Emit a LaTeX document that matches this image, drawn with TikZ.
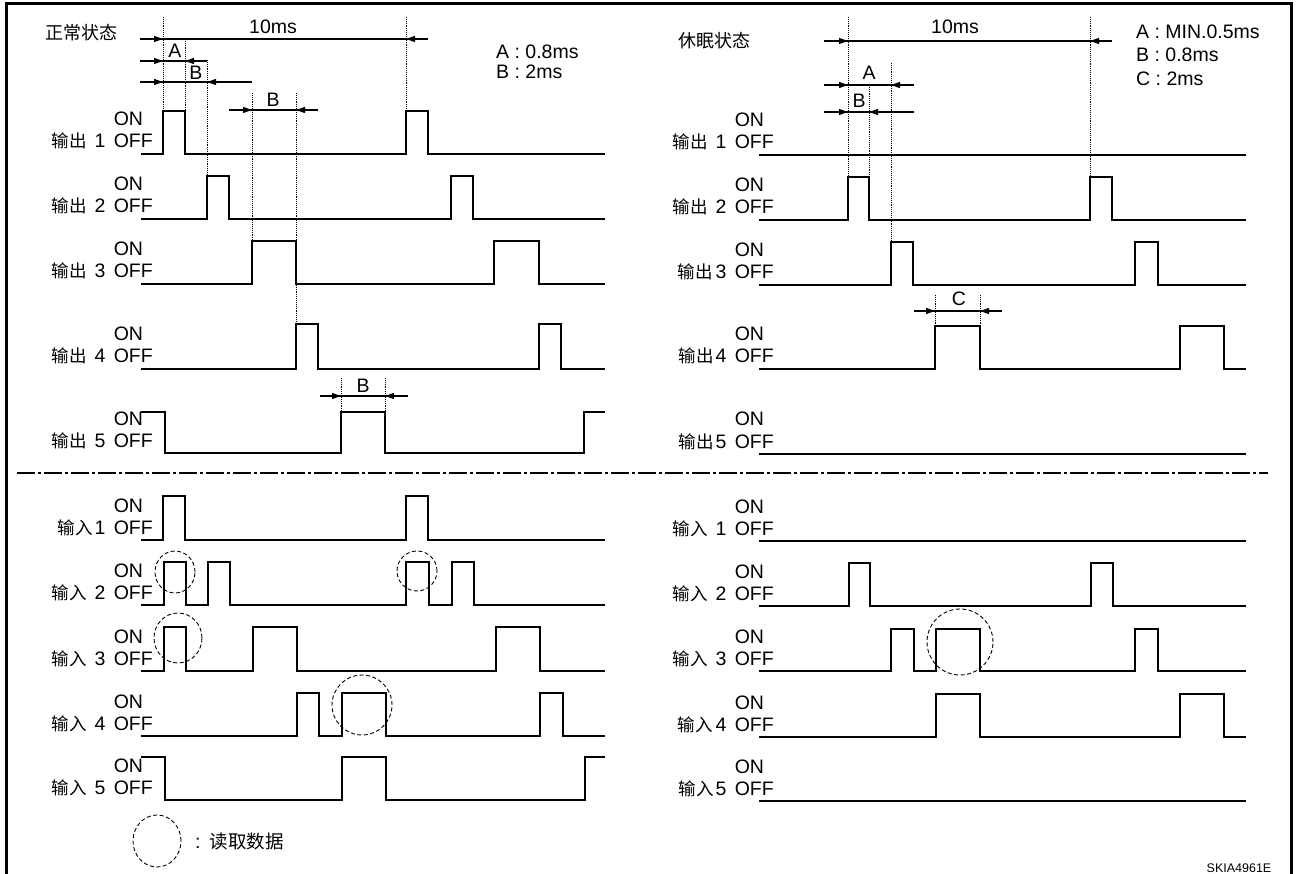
\documentclass[tikz,border=0pt]{standalone}
\usepackage{fontspec}
\setmainfont{Liberation Sans}
\newfontfamily\cjk{Noto Sans CJK SC}
\usetikzlibrary{arrows.meta}

\tikzset{
  sig/.style={line width=1.7pt},
  guide/.style={densely dotted, line width=0.9pt},
  dimline/.style={line width=1.2pt},
  dimtip/.style={-{Triangle[length=9pt,width=6pt]}, line width=1.2pt},
  readmark/.style={dash pattern=on 4pt off 2.5pt, line width=0.9pt},
  lbl/.style={inner sep=0pt, font=\fontsize{19.5}{21}\selectfont},
  head/.style={inner sep=0pt, font=\fontsize{18}{20}\selectfont\cjk},
}

\begin{document}
\begin{tikzpicture}[x=1pt,y=-1pt]
    \useasboundingbox (0,0) rectangle (1296,874);
    \draw[line width=3pt] (6,874) -- (6,4) -- (1291,4) -- (1291,874);

    % headings and keys
    \node[head] (normal) at (81,33) {正常状态};
    \node[head] (sleep) at (714,41) {休眠状态};
    \node[lbl, anchor=west] (keyA) at (496,52) {A : 0.8ms};
    \node[lbl, anchor=west] (keyB) at (496,72) {B : 2ms};
    \node[lbl, anchor=west] (skeyA) at (1136,32) {A : MIN.0.5ms};
    \node[lbl, anchor=west] (skeyB) at (1136,55) {B : 0.8ms};
    \node[lbl, anchor=west] (skeyC) at (1136,79) {C : 2ms};

    % row labels
    \foreach \nm/\grp/\num/\gp/\xr/\lo in {
        o1/输出/1/8/153/154, o2/输出/2/8/153/219, o3/输出/3/8/153/284, o4/输出/4/8/153/369, o5/输出/5/8/153/453,
        p1/输出/1/8/774/155, p2/输出/2/8/774/220, p3/输出/3/3/774/285, p4/输出/4/2/774/369, p5/输出/5/2/774/454,
        i1/输入/1/2/153/540, i2/输入/2/8/153/605, i3/输入/3/8/153/671, i4/输入/4/8/153/736, i5/输入/5/8/153/800,
        j1/输入/1/8/774/541, j2/输入/2/8/774/606, j3/输入/3/8/774/671, j4/输入/4/3/774/737, j5/输入/5/2/774/801} {
      \node[lbl, anchor=base east] (\nm-off) at (\xr,\lo-6) {OFF};
      \node[lbl, anchor=base west] (\nm-on) at ([yshift=22pt]\nm-off.base west) {ON};
      \node[lbl, anchor=base east] (\nm-name) at ([xshift=-8pt]\nm-off.base west) {{\cjk\fontsize{17.5}{20}\selectfont\grp}\hspace{\gp pt}\num};
    }

    % outputs, normal state
    \draw[sig] (141,154) -| (163,111) -| (185,154) -| (406,111) -| (428,154) -- (605,154);
    \draw[sig] (141,219) -| (207,176) -| (229,219) -| (451,176) -| (473,219) -- (605,219);
    \draw[sig] (141,284) -| (252,241) -| (296,284) -| (494,241) -| (539,284) -- (605,284);
    \draw[sig] (141,369) -| (296,324) -| (318,369) -| (539,324) -| (561,369) -- (605,369);
    \draw[sig] (141,412) -| (165,453) -| (341,412) -| (385,453) -| (584,412) -- (605,412);

    % outputs, sleep state
    \draw[sig] (759,155) -- (1246,155);
    \draw[sig] (759,220) -| (848,177) -| (869,220) -| (1090,177) -| (1112,220) -- (1246,220);
    \draw[sig] (759,285) -| (891,242) -| (913,285) -| (1135,242) -| (1158,285) -- (1246,285);
    \draw[sig] (759,369) -| (935,326) -| (980,369) -| (1180,326) -| (1224,369) -- (1246,369);
    \draw[sig] (759,454) -- (1246,454);

    % inputs, normal state
    \draw[sig] (141,540) -| (163,496) -| (185,540) -| (406,496) -| (428,540) -- (605,540);
    \draw[sig] (141,605) -| (164,562) -| (186,605) -| (208,562) -| (230,605) -| (406,562) -| (429,605) -| (452,562) -| (474,605) -- (605,605);
    \draw[sig] (141,671) -| (164,627) -| (186,671) -| (253,627) -| (297,671) -| (496,627) -| (540,671) -- (605,671);
    \draw[sig] (141,736) -| (297,693) -| (319,736) -| (342,693) -| (386,736) -| (540,693) -| (563,736) -- (605,736);
    \draw[sig] (141,757) -| (165,800) -| (342,757) -| (386,800) -| (585,757) -- (605,757);

    % inputs, sleep state
    \draw[sig] (759,541) -- (1246,541);
    \draw[sig] (759,606) -| (849,563) -| (870,606) -| (1091,563) -| (1113,606) -- (1246,606);
    \draw[sig] (759,671) -| (891,629) -| (914,671) -| (936,629) -| (980,671) -| (1135,629) -| (1158,671) -- (1246,671);
    \draw[sig] (759,737) -| (936,694) -| (980,737) -| (1180,694) -| (1224,737) -- (1246,737);
    \draw[sig] (759,801) -- (1246,801);

    % timing guides
    \draw[guide] (163,17) -- (163,111);
    \draw[guide] (185,39) -- (185,111);
    \draw[guide] (207,60) -- (207,176);
    \draw[guide] (252,93) -- (252,241);
    \draw[guide] (296,93) -- (296,324);
    \draw[guide] (406,17) -- (406,111);
    \draw[guide] (341,378) -- (341,412);
    \draw[guide] (385,378) -- (385,412);
    \draw[guide] (848,17) -- (848,177);
    \draw[guide] (869,85) -- (869,177);
    \draw[guide] (891,63) -- (891,242);
    \draw[guide] (1090,17) -- (1090,177);
    \draw[guide] (935,295) -- (935,326);
    \draw[guide] (980,295) -- (980,326);

    % dimension arrows, normal state
    \draw[dimline] (140,39) -- (428,39);
    \draw[dimtip] (140,39) -- (163,39);
    \draw[dimtip] (428,39) -- (406,39);
    \node[lbl] (period) at (273,27) {10ms};
    \draw[dimline] (140,61) -- (207,61);
    \draw[dimtip] (140,61) -- (163,61);
    \draw[dimtip] (207,61) -- (185,61);
    \node[lbl] (dimA) at (175,51) {A};
    \draw[dimline] (140,82) -- (252,82);
    \draw[dimtip] (140,82) -- (163,82);
    \draw[dimtip] (252,82) -- (207,82);
    \node[lbl] (dimB) at (196,73) {B};
    \draw[dimline] (229,110) -- (318,110);
    \draw[dimtip] (229,110) -- (252,110);
    \draw[dimtip] (318,110) -- (296,110);
    \node[lbl] (dimB2) at (273,100) {B};
    \draw[dimline] (320,396) -- (408,396);
    \draw[dimtip] (320,396) -- (341,396);
    \draw[dimtip] (408,396) -- (385,396);
    \node[lbl] (dimB3) at (363,386) {B};

    % dimension arrows, sleep state
    \draw[dimline] (824,41) -- (1112,41);
    \draw[dimtip] (824,41) -- (848,41);
    \draw[dimtip] (1112,41) -- (1090,41);
    \node[lbl] (speriod) at (955,27) {10ms};
    \draw[dimline] (824,85) -- (914,85);
    \draw[dimtip] (824,85) -- (848,85);
    \draw[dimtip] (914,85) -- (891,85);
    \node[lbl] (sdimA) at (869,73) {A};
    \draw[dimline] (824,112) -- (914,112);
    \draw[dimtip] (824,112) -- (848,112);
    \draw[dimtip] (914,112) -- (869,112);
    \node[lbl] (sdimB) at (859,101) {B};
    \draw[dimline] (914,311) -- (1002,311);
    \draw[dimtip] (914,311) -- (935,311);
    \draw[dimtip] (1002,311) -- (980,311);
    \node[lbl] (sdimC) at (959,299) {C};

    % separator
    \draw[line width=2pt, dash pattern=on 18pt off 3pt on 3pt off 3pt] (17,473) -- (1268,473);

    % read points
    \draw[readmark] (175,572) ellipse [x radius=20pt, y radius=21pt];
    \draw[readmark] (417,571) ellipse [x radius=20pt, y radius=20pt];
    \draw[readmark] (178,638) ellipse [x radius=24pt, y radius=25pt];
    \draw[readmark] (362,705) ellipse [x radius=30pt, y radius=30pt];
    \draw[readmark] (960,642) ellipse [x radius=33pt, y radius=33pt];
    \draw[readmark] (157,841) ellipse [x radius=24pt, y radius=26pt];
    \node[lbl, anchor=west] (legend) at (195,842) {:\hspace{9pt}{\cjk\fontsize{18.5}{20}\selectfont 读取数据}};
    \node[inner sep=0pt, font=\fontsize{12.5}{14}\selectfont] (code) at (1239,868) {SKIA4961E};
\end{tikzpicture}
\end{document}
